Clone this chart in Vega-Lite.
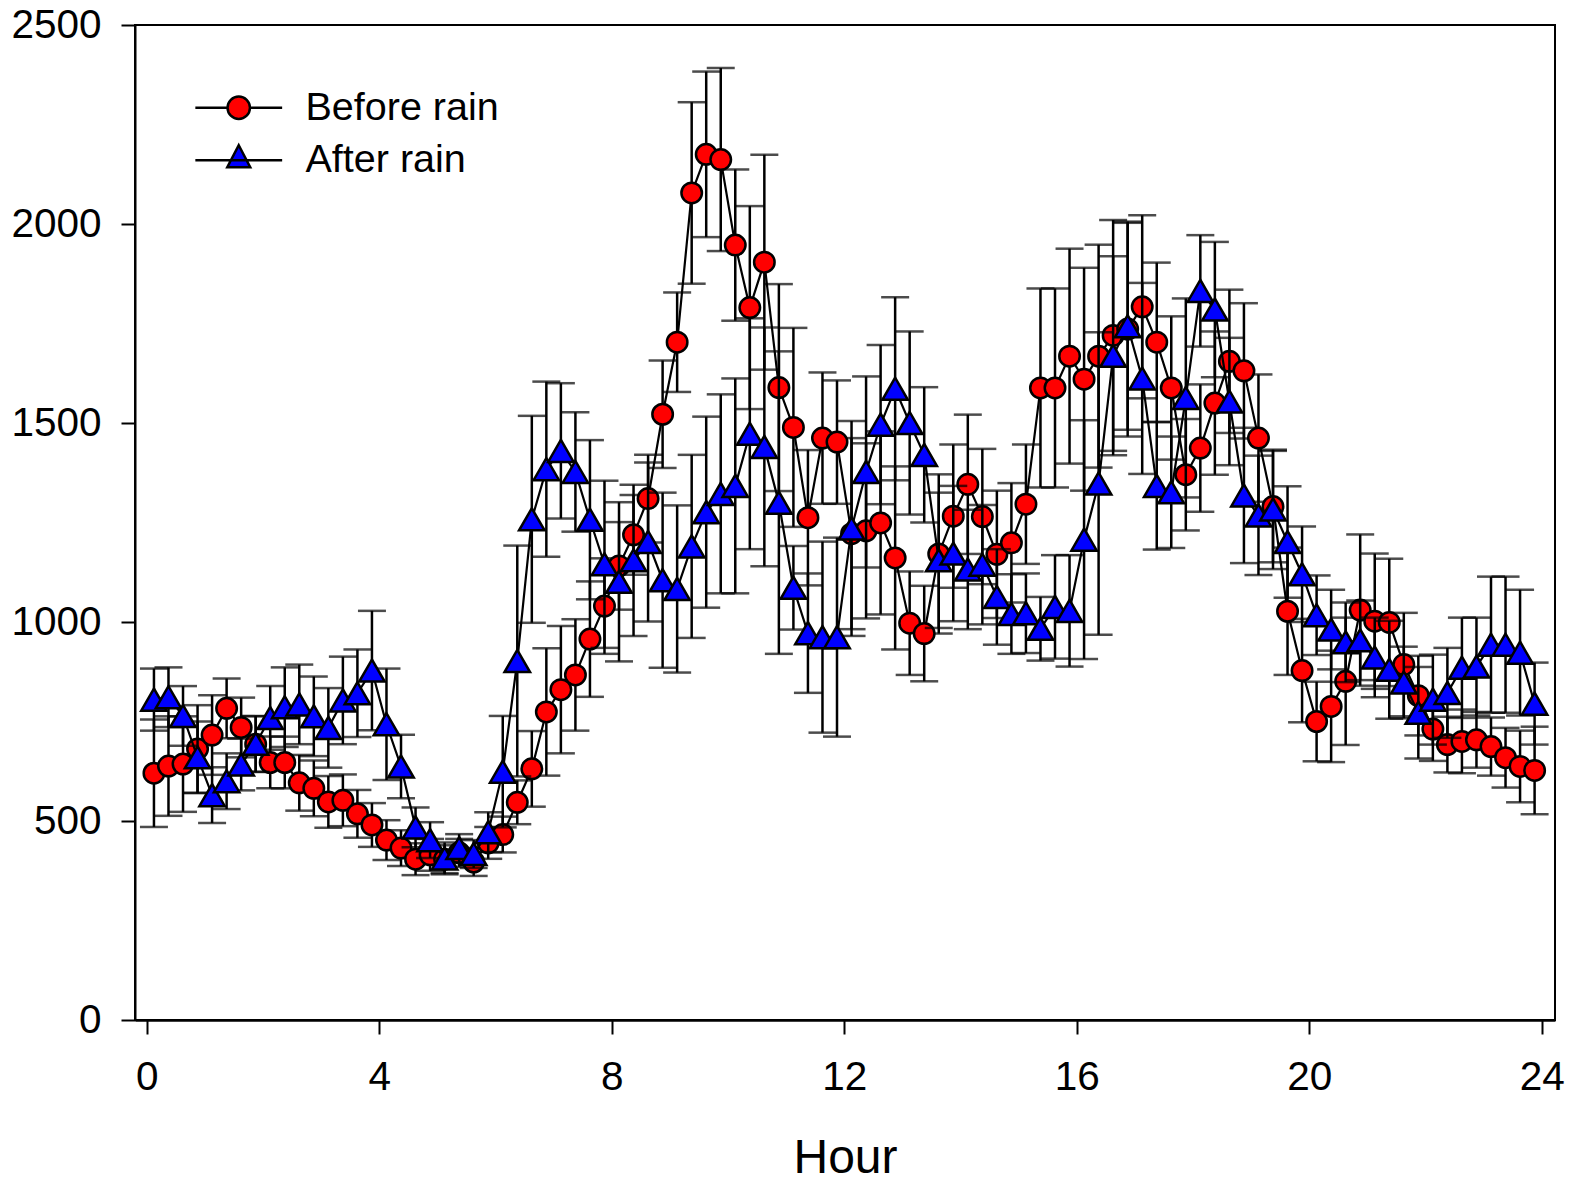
{
  "$schema": "https://vega.github.io/schema/vega-lite/v6.json",
  "width": 1420,
  "height": 995,
  "autosize": "none",
  "padding": {"left": 135, "top": 25, "right": 20, "bottom": 162},
  "background": "white",
  "config": {
    "view": {"stroke": "black", "strokeWidth": 2},
    "font": "Liberation Sans"
  },
  "datasets": {
    "before": [
      {"hour":0.125,"value":620,"err":135},{"hour":0.375,"value":638,"err":125},{"hour":0.625,"value":643,"err":120},{"hour":0.875,"value":681,"err":110},
      {"hour":1.125,"value":716,"err":100},{"hour":1.375,"value":783,"err":75},{"hour":1.625,"value":735,"err":75},{"hour":1.875,"value":693,"err":70},
      {"hour":2.125,"value":647,"err":65},{"hour":2.375,"value":647,"err":65},{"hour":2.625,"value":596,"err":70},{"hour":2.875,"value":582,"err":70},
      {"hour":3.125,"value":548,"err":65},{"hour":3.375,"value":552,"err":65},{"hour":3.625,"value":518,"err":60},{"hour":3.875,"value":490,"err":55},
      {"hour":4.125,"value":452,"err":50},{"hour":4.375,"value":432,"err":45},{"hour":4.625,"value":404,"err":40},{"hour":4.875,"value":415,"err":40},
      {"hour":5.125,"value":404,"err":35},{"hour":5.375,"value":420,"err":35},{"hour":5.625,"value":397,"err":35},{"hour":5.875,"value":445,"err":40},
      {"hour":6.125,"value":466,"err":45},{"hour":6.375,"value":547,"err":55},{"hour":6.625,"value":631,"err":95},{"hour":6.875,"value":774,"err":160},
      {"hour":7.125,"value":830,"err":160},{"hour":7.375,"value":867,"err":140},{"hour":7.625,"value":957,"err":145},{"hour":7.875,"value":1040,"err":120},
      {"hour":8.125,"value":1141,"err":110},{"hour":8.375,"value":1219,"err":100},{"hour":8.625,"value":1310,"err":110},{"hour":8.875,"value":1522,"err":135},
      {"hour":9.125,"value":1703,"err":125},{"hour":9.375,"value":2078,"err":228},{"hour":9.625,"value":2175,"err":208},{"hour":9.875,"value":2162,"err":230},
      {"hour":10.125,"value":1947,"err":190},{"hour":10.375,"value":1790,"err":255},{"hour":10.625,"value":1904,"err":270},{"hour":10.875,"value":1589,"err":260},
      {"hour":11.125,"value":1489,"err":250},{"hour":11.375,"value":1262,"err":170},{"hour":11.625,"value":1462,"err":165},{"hour":11.875,"value":1452,"err":155},
      {"hour":12.125,"value":1222,"err":240},{"hour":12.375,"value":1229,"err":220},{"hour":12.625,"value":1249,"err":230},{"hour":12.875,"value":1161,"err":230},
      {"hour":13.125,"value":997,"err":130},{"hour":13.375,"value":971,"err":120},{"hour":13.625,"value":1171,"err":200},{"hour":13.875,"value":1266,"err":180},
      {"hour":14.125,"value":1346,"err":175},{"hour":14.375,"value":1265,"err":170},{"hour":14.625,"value":1170,"err":160},{"hour":14.875,"value":1199,"err":150},
      {"hour":15.125,"value":1296,"err":150},{"hour":15.375,"value":1588,"err":250},{"hour":15.625,"value":1588,"err":250},{"hour":15.875,"value":1668,"err":270},
      {"hour":16.125,"value":1610,"err":280},{"hour":16.375,"value":1668,"err":280},{"hour":16.625,"value":1720,"err":290},{"hour":16.875,"value":1736,"err":270},
      {"hour":17.125,"value":1792,"err":230},{"hour":17.375,"value":1703,"err":200},{"hour":17.625,"value":1588,"err":180},{"hour":17.875,"value":1370,"err":140},
      {"hour":18.125,"value":1437,"err":160},{"hour":18.375,"value":1550,"err":180},{"hour":18.625,"value":1655,"err":180},{"hour":18.875,"value":1631,"err":170},
      {"hour":19.125,"value":1462,"err":160},{"hour":19.375,"value":1290,"err":140},{"hour":19.625,"value":1027,"err":160},{"hour":19.875,"value":878,"err":130},
      {"hour":20.125,"value":750,"err":100},{"hour":20.375,"value":788,"err":140},{"hour":20.625,"value":851,"err":160},{"hour":20.875,"value":1030,"err":190},
      {"hour":21.125,"value":1002,"err":170},{"hour":21.375,"value":999,"err":160},{"hour":21.625,"value":893,"err":130},{"hour":21.875,"value":815,"err":100},
      {"hour":22.125,"value":731,"err":80},{"hour":22.375,"value":692,"err":70},{"hour":22.625,"value":700,"err":80},{"hour":22.875,"value":704,"err":70},
      {"hour":23.125,"value":687,"err":73},{"hour":23.375,"value":659,"err":75},{"hour":23.625,"value":637,"err":90},{"hour":23.875,"value":627,"err":110}
    ],
    "after": [
      {"hour":0.125,"value":805,"err":78},{"hour":0.375,"value":811,"err":75},{"hour":0.625,"value":764,"err":75},{"hour":0.875,"value":660,"err":90},
      {"hour":1.125,"value":565,"err":70},{"hour":1.375,"value":600,"err":70},{"hour":1.625,"value":642,"err":65},{"hour":1.875,"value":694,"err":70},
      {"hour":2.125,"value":759,"err":80},{"hour":2.375,"value":786,"err":100},{"hour":2.625,"value":793,"err":100},{"hour":2.875,"value":763,"err":100},
      {"hour":3.125,"value":734,"err":100},{"hour":3.375,"value":803,"err":110},{"hour":3.625,"value":821,"err":110},{"hour":3.875,"value":878,"err":150},
      {"hour":4.125,"value":743,"err":140},{"hour":4.375,"value":637,"err":80},{"hour":4.625,"value":484,"err":50},{"hour":4.875,"value":452,"err":45},
      {"hour":5.125,"value":406,"err":40},{"hour":5.375,"value":432,"err":35},{"hour":5.625,"value":417,"err":35},{"hour":5.875,"value":472,"err":50},
      {"hour":6.125,"value":624,"err":140},{"hour":6.375,"value":902,"err":290},{"hour":6.625,"value":1258,"err":260},{"hour":6.875,"value":1384,"err":220},
      {"hour":7.125,"value":1430,"err":170},{"hour":7.375,"value":1377,"err":150},{"hour":7.625,"value":1257,"err":200},{"hour":7.875,"value":1145,"err":210},
      {"hour":8.125,"value":1101,"err":200},{"hour":8.375,"value":1155,"err":190},{"hour":8.625,"value":1201,"err":200},{"hour":8.875,"value":1105,"err":220},
      {"hour":9.125,"value":1083,"err":210},{"hour":9.375,"value":1190,"err":230},{"hour":9.625,"value":1276,"err":240},{"hour":9.875,"value":1322,"err":250},
      {"hour":10.125,"value":1342,"err":270},{"hour":10.375,"value":1473,"err":290},{"hour":10.625,"value":1440,"err":300},{"hour":10.875,"value":1300,"err":380},
      {"hour":11.125,"value":1086,"err":105},{"hour":11.375,"value":972,"err":150},{"hour":11.625,"value":962,"err":240},{"hour":11.875,"value":962,"err":250},
      {"hour":12.125,"value":1235,"err":270},{"hour":12.375,"value":1377,"err":240},{"hour":12.625,"value":1496,"err":200},{"hour":12.875,"value":1586,"err":230},
      {"hour":13.125,"value":1500,"err":230},{"hour":13.375,"value":1420,"err":170},{"hour":13.625,"value":1155,"err":170},{"hour":13.875,"value":1172,"err":170},
      {"hour":14.125,"value":1132,"err":150},{"hour":14.375,"value":1144,"err":150},{"hour":14.625,"value":1063,"err":120},{"hour":14.875,"value":1020,"err":100},
      {"hour":15.125,"value":1022,"err":100},{"hour":15.375,"value":983,"err":80},{"hour":15.625,"value":1038,"err":130},{"hour":15.875,"value":1028,"err":140},
      {"hour":16.125,"value":1207,"err":300},{"hour":16.375,"value":1348,"err":380},{"hour":16.625,"value":1669,"err":250},{"hour":16.875,"value":1743,"err":260},
      {"hour":17.125,"value":1612,"err":240},{"hour":17.375,"value":1342,"err":160},{"hour":17.625,"value":1326,"err":140},{"hour":17.875,"value":1563,"err":250},
      {"hour":18.125,"value":1832,"err":140},{"hour":18.375,"value":1785,"err":170},{"hour":18.625,"value":1554,"err":160},{"hour":18.875,"value":1318,"err":170},
      {"hour":19.125,"value":1268,"err":150},{"hour":19.375,"value":1283,"err":150},{"hour":19.625,"value":1201,"err":140},{"hour":19.875,"value":1120,"err":120},
      {"hour":20.125,"value":1017,"err":100},{"hour":20.375,"value":981,"err":100},{"hour":20.625,"value":949,"err":100},{"hour":20.875,"value":954,"err":100},
      {"hour":21.125,"value":911,"err":100},{"hour":21.375,"value":880,"err":123},{"hour":21.625,"value":848,"err":90},{"hour":21.875,"value":772,"err":115},
      {"hour":22.125,"value":805,"err":113},{"hour":22.375,"value":822,"err":113},{"hour":22.625,"value":885,"err":126},{"hour":22.875,"value":888,"err":123},
      {"hour":23.125,"value":943,"err":171},{"hour":23.375,"value":943,"err":171},{"hour":23.625,"value":923,"err":158},{"hour":23.875,"value":795,"err":103}
    ]
  },
  "encoding": {
    "x": {
      "field": "hour", "type": "quantitative",
      "scale": {"domain": [-0.201, 24.226], "nice": false, "zero": false},
      "axis": {
        "values": [0, 4, 8, 12, 16, 20, 24], "title": "Hour", "grid": false, "format": "d",
        "tickSize": 14, "tickWidth": 2, "tickColor": "black",
        "domainColor": "black", "domainWidth": 2.5,
        "labelFontSize": 40.5, "labelFont": "Liberation Sans", "labelColor": "black",
        "labelPadding": 23, "labelFlush": false, "labelOverlap": false,
        "titleFontSize": 48, "titleFont": "Liberation Sans", "titleFontWeight": "normal",
        "titleColor": "black", "titlePadding": 37
      }
    },
    "y": {
      "field": "value", "type": "quantitative",
      "scale": {"domain": [0, 2500], "nice": false, "zero": true},
      "axis": {
        "values": [0, 500, 1000, 1500, 2000, 2500], "title": null, "grid": false, "format": "d",
        "tickSize": 14, "tickWidth": 2, "tickColor": "black",
        "domainColor": "black", "domainWidth": 2,
        "labelFontSize": 40.5, "labelFont": "Liberation Sans", "labelColor": "black",
        "labelPadding": 20, "labelFlush": false, "labelOverlap": false
      }
    }
  },
  "layer": [
    {
      "data": {"name": "before"},
      "mark": {"type": "errorbar", "ticks": {"size": 28}, "thickness": 2.5, "color": "black"},
      "encoding": {"yError": {"field": "err"}}
    },
    {
      "data": {"name": "before"},
      "mark": {"type": "line", "color": "black", "strokeWidth": 2.2}
    },
    {
      "data": {"name": "before"},
      "mark": {"type": "point", "shape": "circle", "filled": true, "fill": "#ff0000", "stroke": "black", "strokeWidth": 2.5, "size": 420, "opacity": 1}
    },
    {
      "data": {"name": "after"},
      "mark": {"type": "errorbar", "ticks": {"size": 28}, "thickness": 2.5, "color": "black"},
      "encoding": {"yError": {"field": "err"}}
    },
    {
      "data": {"name": "after"},
      "mark": {"type": "line", "color": "black", "strokeWidth": 2.2}
    },
    {
      "data": {"name": "after"},
      "mark": {"type": "point", "shape": "triangle-up", "filled": true, "fill": "#0000ff", "stroke": "black", "strokeWidth": 2.5, "size": 650, "opacity": 1}
    },
    {
      "data": {"values": []},
      "mark": {"type": "point", "filled": true, "stroke": "black", "strokeWidth": 2.5, "opacity": 1},
      "encoding": {
        "shape": {
          "field": "series", "type": "nominal",
          "scale": {
            "domain": ["Before rain", "After rain"],
            "range": [
              "M-3.1,0L-0.8,0M0.8,0L3.1,0M0.8,0A0.8,0.8,0,1,1,-0.8,0A0.8,0.8,0,1,1,0.8,0Z",
              "M-3.1,0L3.1,0M0,-1.07L0.82,0.5L-0.82,0.5Z"
            ]
          },
          "legend": {
            "title": null, "orient": "none", "legendX": 84, "legendY": 63, "padding": 0,
            "symbolSize": 784, "symbolStrokeColor": "black", "symbolStrokeWidth": 2.5, "symbolOpacity": 1,
            "labelFontSize": 39.5, "labelFont": "Liberation Sans", "labelColor": "black", "labelLimit": 0,
            "labelOffset": 47, "rowPadding": 11.5,
            "encode": {"symbols": {"update": {"stroke": {"value": "black"}, "strokeWidth": {"value": 2.5}, "opacity": {"value": 1}}}}
          }
        },
        "fill": {
          "field": "series", "type": "nominal",
          "scale": {"domain": ["Before rain", "After rain"], "range": ["#ff0000", "#0000ff"]},
          "legend": {
            "title": null, "orient": "none", "legendX": 84, "legendY": 63, "padding": 0,
            "symbolSize": 784, "symbolStrokeColor": "black", "symbolStrokeWidth": 2.5, "symbolOpacity": 1,
            "labelFontSize": 39.5, "labelFont": "Liberation Sans", "labelColor": "black", "labelLimit": 0,
            "labelOffset": 47, "rowPadding": 11.5,
            "encode": {"symbols": {"update": {"stroke": {"value": "black"}, "strokeWidth": {"value": 2.5}, "opacity": {"value": 1}}}}
          }
        }
      }
    }
  ]
}
